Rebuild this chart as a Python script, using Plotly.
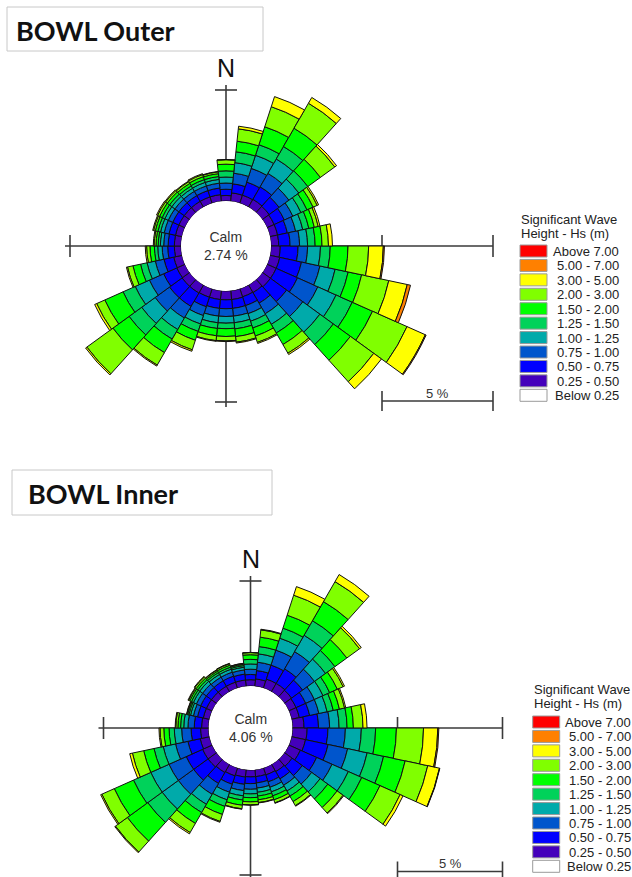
import plotly.graph_objects as go

# ---------------- data ----------------
directions = [0, 12, 24, 36, 48, 60, 72, 84, 96, 108, 120, 132, 144, 156, 168,
              180, 192, 204, 216, 228, 240, 252, 264, 276, 288, 300, 312, 324, 336, 348]

hs_classes = ["0.25 - 0.50", "0.50 - 0.75", "0.75 - 1.00", "1.00 - 1.25", "1.25 - 1.50",
              "1.50 - 2.00", "2.00 - 3.00", "3.00 - 5.00", "5.00 - 7.00", "Above 7.00"]
class_colors = ["#4400bb", "#0000ff", "#0055cc", "#00aaaa", "#00d25a",
                "#00ff00", "#80ff00", "#ffff00", "#ff8000", "#ff0000"]

legend_labels = ["Above 7.00", "5.00 - 7.00", "3.00 - 5.00", "2.00 - 3.00", "1.50 - 2.00",
                 "1.25 - 1.50", "1.00 - 1.25", "0.75 - 1.00", "0.50 - 0.75", "0.25 - 0.50",
                 "Below 0.25"]
legend_colors = ["#ff0000", "#ff8000", "#ffff00", "#80ff00", "#00ff00",
                 "#00d25a", "#00aaaa", "#0055cc", "#0000ff", "#4400bb", "#ffffff"]
legend_title = ["Significant Wave", "Height - Hs (m)"]

# BOWL Outer (percent of time per direction and Hs class)
outer_calm = 2.74
outer_025_050 = [0.25, 0.38, 0.38, 0.40, 0.38, 0.35, 0.35, 0.35, 0.42, 0.45, 0.45, 0.45, 0.40, 0.38, 0.40,
                 0.40, 0.40, 0.40, 0.42, 0.42, 0.40, 0.38, 0.30, 0.30, 0.30, 0.30, 0.30, 0.30, 0.30, 0.30]
outer_050_075 = [0.28, 0.41, 0.62, 0.65, 0.55, 0.50, 0.45, 0.51, 0.80, 1.00, 1.05, 0.90, 0.55, 0.42, 0.40,
                 0.40, 0.40, 0.45, 0.70, 0.70, 0.65, 0.45, 0.30, 0.28, 0.30, 0.30, 0.30, 0.30, 0.30, 0.30]
outer_075_100 = [0.28, 0.48, 0.65, 0.70, 0.55, 0.42, 0.38, 0.43, 0.43, 0.85, 1.00, 0.90, 0.55, 0.38, 0.35,
                 0.35, 0.35, 0.42, 0.60, 0.80, 0.70, 0.40, 0.25, 0.20, 0.22, 0.22, 0.22, 0.22, 0.22, 0.22]
outer_100_125 = [0.27, 0.48, 0.62, 0.75, 0.55, 0.40, 0.33, 0.36, 0.58, 0.70, 0.90, 0.95, 0.55, 0.36, 0.30,
                 0.30, 0.30, 0.40, 0.60, 0.75, 0.70, 0.38, 0.20, 0.15, 0.17, 0.17, 0.17, 0.16, 0.17, 0.17]
outer_125_150 = [0.28, 0.49, 0.50, 0.65, 0.50, 0.30, 0.28, 0.34, 0.44, 0.60, 0.80, 0.75, 0.45, 0.32, 0.28,
                 0.25, 0.26, 0.35, 0.50, 0.70, 0.60, 0.30, 0.15, 0.10, 0.12, 0.13, 0.13, 0.12, 0.13, 0.13]
outer_150_200 = [0.30, 0.48, 0.85, 0.95, 0.70, 0.30, 0.25, 0.31, 0.80, 0.62, 1.00, 0.95, 0.60, 0.38, 0.35,
                 0.35, 0.33, 0.42, 0.70, 0.90, 0.90, 0.35, 0.20, 0.10, 0.12, 0.13, 0.13, 0.13, 0.14, 0.13]
outer_200_300 = [0.20, 0.56, 0.95, 1.30, 0.80, 0.20, 0.18, 0.29, 0.93, 1.25, 1.70, 1.30, 0.45, 0.30, 0.25,
                 0.20, 0.22, 0.45, 0.65, 1.45, 0.40, 0.25, 0.15, 0.08, 0.08, 0.10, 0.09, 0.09, 0.10, 0.08]
outer_300_500 = [0.01, 0.12, 0.48, 0.30, 0.10, 0.07, 0.08, 0.18, 0.66, 0.85, 0.90, 0.43, 0.07, 0.05, 0.04,
                 0.03, 0.03, 0.07, 0.05, 0.07, 0.10, 0.05, 0.06, 0.04, 0.04, 0.05, 0.04, 0.03, 0.04, 0.02]
outer_500_700 = [0, 0, 0, 0, 0, 0, 0, 0, 0.05, 0.15, 0.04, 0, 0, 0, 0,
                 0, 0, 0, 0, 0, 0, 0, 0, 0, 0, 0, 0, 0, 0, 0]
outer_above_700 = [0] * 30

# BOWL Inner
inner_calm = 4.06
inner_025_050 = [0.30, 0.35, 0.45, 0.45, 0.42, 0.38, 0.38, 0.55, 0.70, 0.68, 0.60, 0.45, 0.40, 0.35, 0.33,
                 0.33, 0.35, 0.40, 0.45, 0.50, 0.50, 0.45, 0.38, 0.33, 0.30, 0.30, 0.30, 0.30, 0.30, 0.30]
inner_050_075 = [0.25, 0.40, 0.70, 0.80, 0.65, 0.50, 0.50, 0.69, 0.99, 1.10, 0.85, 0.60, 0.40, 0.35, 0.30,
                 0.32, 0.35, 0.42, 0.60, 0.85, 0.85, 0.60, 0.45, 0.35, 0.28, 0.30, 0.30, 0.30, 0.30, 0.28]
inner_075_100 = [0.25, 0.40, 0.75, 0.95, 0.70, 0.45, 0.45, 0.53, 0.83, 0.95, 0.80, 0.55, 0.35, 0.27, 0.25,
                 0.27, 0.30, 0.40, 0.60, 0.90, 0.90, 0.60, 0.45, 0.30, 0.20, 0.22, 0.22, 0.20, 0.20, 0.20]
inner_100_125 = [0.25, 0.40, 0.60, 0.90, 0.65, 0.45, 0.40, 0.45, 0.76, 0.95, 0.85, 0.50, 0.32, 0.23, 0.20,
                 0.22, 0.25, 0.38, 0.55, 0.95, 0.95, 0.60, 0.35, 0.20, 0.14, 0.16, 0.17, 0.15, 0.15, 0.13]
inner_125_150 = [0.22, 0.35, 0.50, 0.80, 0.55, 0.35, 0.30, 0.38, 0.68, 0.80, 0.70, 0.45, 0.28, 0.20, 0.18,
                 0.18, 0.20, 0.33, 0.45, 0.85, 0.90, 0.45, 0.25, 0.15, 0.08, 0.10, 0.11, 0.10, 0.10, 0.08]
inner_150_200 = [0.22, 0.45, 0.65, 1.05, 0.70, 0.40, 0.30, 0.30, 0.99, 1.05, 0.95, 0.55, 0.30, 0.20, 0.18,
                 0.20, 0.25, 0.40, 0.60, 1.20, 1.00, 0.50, 0.25, 0.13, 0.06, 0.09, 0.10, 0.08, 0.10, 0.06]
inner_200_300 = [0.10, 0.35, 1.00, 1.10, 0.75, 0.30, 0.25, 0.46, 1.29, 1.10, 1.05, 0.35, 0.22, 0.15, 0.13,
                 0.14, 0.17, 0.35, 0.50, 0.70, 0.65, 0.55, 0.18, 0.10, 0.04, 0.06, 0.08, 0.06, 0.07, 0.04]
inner_300_500 = [0.01, 0.03, 0.43, 0.39, 0.10, 0.07, 0.06, 0.19, 0.68, 0.57, 0.15, 0.04, 0.03, 0.02, 0.02,
                 0.02, 0.02, 0.04, 0.07, 0.04, 0.06, 0.13, 0.05, 0.03, 0.02, 0.03, 0.03, 0.02, 0.02, 0.01]
inner_500_700 = [0, 0, 0, 0, 0, 0, 0, 0, 0.05, 0.02, 0, 0, 0, 0, 0,
                 0, 0, 0, 0, 0, 0, 0, 0, 0, 0, 0, 0, 0, 0, 0]
inner_above_700 = [0] * 30

outer_series = [outer_025_050, outer_050_075, outer_075_100, outer_100_125, outer_125_150,
                outer_150_200, outer_200_300, outer_300_500, outer_500_700, outer_above_700]
inner_series = [inner_025_050, inner_050_075, inner_075_100, inner_100_125, inner_125_150,
                inner_150_200, inner_200_300, inner_300_500, inner_500_700, inner_above_700]

# ---------------- layout geometry (pixels) ----------------
W, H = 632, 930
roses = [
    dict(name="polar", title="BOWL Outer", calm=outer_calm, series=outer_series,
         cx=226.0, cy=246.0, hole=45.0, scale=22.2, rmax=7.9,
         box=(7, 7, 263, 51), title_xy=(14, 31),
         legend_xy=(520, 620.5, 219.5, 245.0), bar_y=401.0),
    dict(name="polar2", title="BOWL Inner", calm=inner_calm, series=inner_series,
         cx=250.5, cy=728.0, hole=42.0, scale=21.0, rmax=7.4,
         box=(12, 470, 272, 515), title_xy=(26, 494),
         legend_xy=(532.7, 633.0, 689.5, 716.0), bar_y=871.5),
]


def px(x):
    return x / W


def py(y):
    return 1 - y / H


fig = go.Figure()
shapes = []
annotations = []
line_col = "#3a3a3a"

for rose in roses:
    cx, cy, hole, s, rmax = rose["cx"], rose["cy"], rose["hole"], rose["scale"], rose["rmax"]
    R = hole + s * rmax
    for cls, col, vals in zip(hs_classes, class_colors, rose["series"]):
        fig.add_trace(go.Barpolar(
            r=vals, theta=directions, width=[12] * len(directions),
            name=cls, subplot=rose["name"], showlegend=False,
            marker=dict(color=col, line=dict(color="#111111", width=1)),
            hoverinfo="skip"))

    fig.layout[rose["name"]] = dict(
        domain=dict(x=[(cx - R) / W, (cx + R) / W], y=[1 - (cy + R) / H, 1 - (cy - R) / H]),
        hole=hole / R,
        bgcolor="rgba(0,0,0,0)",
        barmode="stack",
        radialaxis=dict(range=[0, rmax], visible=False, showgrid=False),
        angularaxis=dict(rotation=90, direction="clockwise", visible=False, showgrid=False),
    )

    r5 = hole + 5 * s
    r10 = hole + 10 * s
    ext = 5
    tk = 11

    def L(x0, y0, x1, y1, layer="below", w=1.6):
        shapes.append(dict(type="line", xref="paper", yref="paper",
                           x0=px(x0), y0=py(y0), x1=px(x1), y1=py(y1),
                           line=dict(color=line_col, width=w), layer=layer))

    # cross axes
    L(cx, cy - hole, cx, cy - r5 - ext)
    L(cx - tk, cy - r5, cx + tk, cy - r5)
    L(cx, cy + hole, cx, cy + r5 + ext)
    L(cx - tk, cy + r5, cx + tk, cy + r5)
    L(cx - hole, cy, cx - r5 - ext, cy)
    L(cx - r5, cy - tk, cx - r5, cy + tk)
    L(cx + hole, cy, cx + r10, cy)
    L(cx + r5, cy - tk, cx + r5, cy + tk)
    L(cx + r10, cy - tk, cx + r10, cy + tk)
    # scale bar (5 %)
    yb = rose["bar_y"]
    L(cx + r5, yb, cx + r10, yb, layer="above")
    L(cx + r5, yb - 10, cx + r5, yb + 10, layer="above")
    L(cx + r10, yb - 10, cx + r10, yb + 10, layer="above")
    annotations.append(dict(x=px(cx + (r5 + r10) / 2), y=py(yb - 8), xref="paper", yref="paper",
                            text="5 %", showarrow=False, xanchor="center", yanchor="middle",
                            font=dict(family="Liberation Sans", size=13, color="#333333")))
    # N label
    annotations.append(dict(x=px(cx), y=py(cy - r5 - ext - 17), xref="paper", yref="paper",
                            text="N", showarrow=False, xanchor="center", yanchor="middle",
                            font=dict(family="Liberation Sans", size=25, color="#111111")))
    # Calm
    annotations.append(dict(x=px(cx), y=py(cy), xref="paper", yref="paper",
                            text="Calm<br>%.2f %%" % rose["calm"], showarrow=False,
                            xanchor="center", yanchor="middle", align="center",
                            font=dict(family="Liberation Sans", size=14, color="#333333")))
    # title box
    bx0, by0, bx1, by1 = rose["box"]
    shapes.append(dict(type="rect", xref="paper", yref="paper",
                       x0=px(bx0), y0=py(by1), x1=px(bx1), y1=py(by0),
                       line=dict(color="#c8c8c8", width=1), fillcolor="white", layer="above"))
    tx, ty = rose["title_xy"]
    annotations.append(dict(x=px(tx), y=py(ty), xref="paper", yref="paper",
                            text="<b>%s</b>" % rose["title"], showarrow=False,
                            xanchor="left", yanchor="middle",
                            font=dict(family="Lato", size=27, color="#111111")))
    # legend
    lx, lright, lty, lby = rose["legend_xy"]
    for i, t in enumerate(legend_title):
        annotations.append(dict(x=px(lx - 1), y=py(lty + 14.3 * i), xref="paper", yref="paper",
                                text=t, showarrow=False, xanchor="left", yanchor="middle",
                                font=dict(family="Liberation Sans", size=13, color="#222222")))
    for i, (lab, col) in enumerate(zip(legend_labels, legend_colors)):
        y0 = lby + 14.43 * i
        shapes.append(dict(type="rect", xref="paper", yref="paper",
                           x0=px(lx), x1=px(lx + 27), y0=py(y0 + 12), y1=py(y0),
                           fillcolor=col, line=dict(color="#9a9a9a", width=1), layer="above"))
        annotations.append(dict(x=px(lright), y=py(y0 + 6.5), xref="paper", yref="paper",
                                text=lab, showarrow=False, xanchor="right", yanchor="middle",
                                font=dict(family="Liberation Sans", size=13, color="#222222")))

fig.update_layout(
    width=W, height=H, autosize=False,
    margin=dict(l=0, r=0, t=0, b=0, pad=0),
    paper_bgcolor="white", plot_bgcolor="white",
    showlegend=False,
    shapes=shapes, annotations=annotations,
)

fig.write_html("out.html", config={"displayModeBar": False},
               post_script="document.body.style.margin='0';document.body.style.overflow='hidden';")
